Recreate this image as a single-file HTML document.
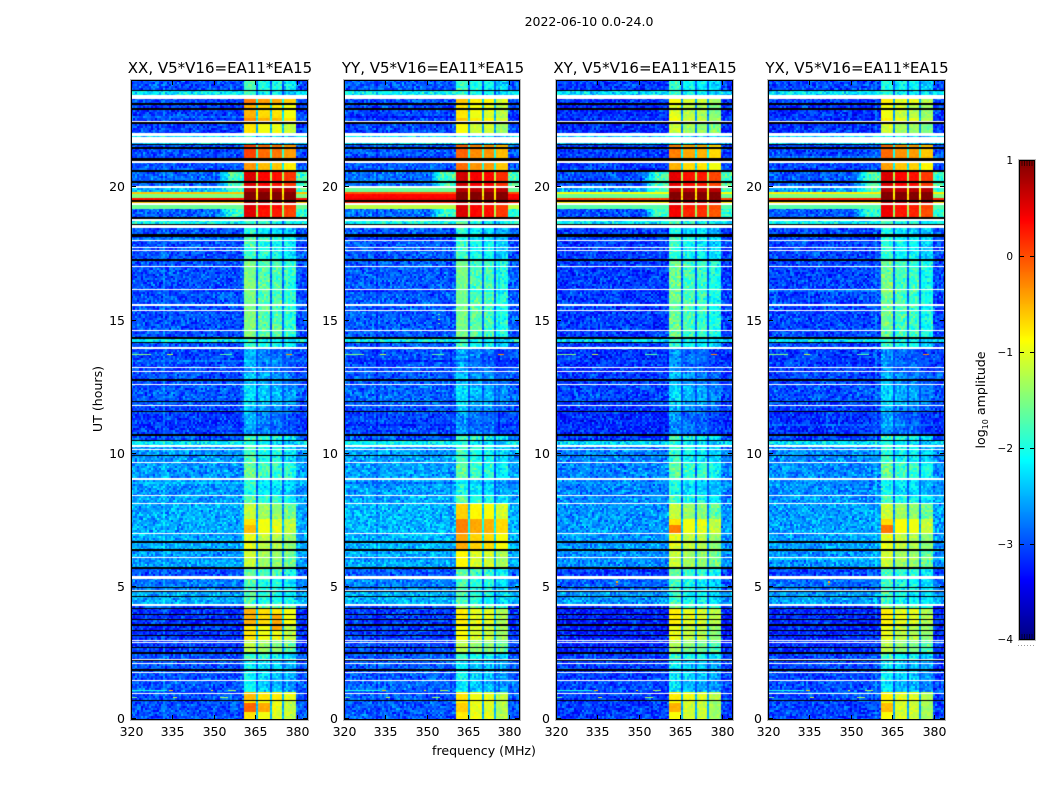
<!DOCTYPE html>
<html lang="en">
<head>
<meta charset="utf-8">
<title>2022-06-10 0.0-24.0</title>
<style>
html,body{margin:0;padding:0;background:#fff;width:1050px;height:800px;overflow:hidden}
#stage{position:relative;width:1050px;height:800px;background:#fff}
canvas{position:absolute;display:block}
svg{position:absolute;left:0;top:0}
text{font-family:"DejaVu Sans","Liberation Sans",sans-serif;fill:#000}
</style>
</head>
<body>
<div id="stage">
<canvas id="hm0" width="177" height="639" style="left:131px;top:80px"></canvas>
<canvas id="hm1" width="176" height="639" style="left:344px;top:80px"></canvas>
<canvas id="hm2" width="177" height="639" style="left:556px;top:80px"></canvas>
<canvas id="hm3" width="177" height="639" style="left:768px;top:80px"></canvas>
<canvas id="cb" width="16" height="480" style="left:1019px;top:160px"></canvas>
<svg id="ov" width="1050" height="800" viewBox="0 0 1050 800">
<text x="589" y="26" font-size="12.5" text-anchor="middle">2022-06-10 0.0-24.0</text>
<text x="220" y="73" font-size="15" text-anchor="middle">XX, V5*V16=EA11*EA15</text>
<text x="433" y="73" font-size="15" text-anchor="middle">YY, V5*V16=EA11*EA15</text>
<text x="645" y="73" font-size="15" text-anchor="middle">XY, V5*V16=EA11*EA15</text>
<text x="857" y="73" font-size="15" text-anchor="middle">YX, V5*V16=EA11*EA15</text>
<text x="484" y="755" font-size="12.6" text-anchor="middle">frequency (MHz)</text>
<text transform="translate(102,399) rotate(-90)" font-size="12.6" text-anchor="middle">UT (hours)</text>
<text transform="translate(985,400) rotate(-90)" font-size="12.6" text-anchor="middle">log<tspan font-size="8" dy="3">10</tspan><tspan dy="-3"> amplitude</tspan></text>
</svg>
</div>
<script>
// Frequency and time axes
const xTicks = [320, 335, 350, 365, 380];
const yTicks = [0, 5, 10, 15, 20];
const cbTicks = [1, 0, -1, -2, -3, -4];
const freqMin = 320;
const freqMax = 384;
const hourMax = 24;
const valMin = -4;
const valMax = 1;
const channelCount = 88;
const panelLefts = [131, 344, 556, 768];
const panelWidths = [177, 176, 177, 177];

// Interference block edges in MHz
const blockStart = [360.4, 365.8, 370.9, 375.6];
const blockEnd = [365.1, 370.2, 374.9, 379.9];
const blockOffset = [0.2, 0, -0.05, -0.25];

// Time bands: upper edge in hours, lower edge is the next entry
const bandTop = [24,23.62,23.43,23.1,22.58,22.45,21.9,21.6,21.07,20.6,20,19.8,19.7,19.55,19.45,19.3,19.15,18.85,18.6,18.2,17.2,14.33,14.12,13.95,13,12.5,11.8,11.5,10.62,10.45,10.28,9.65,9,8.4,8.1,7.5,7,6.3,5.72,5.27,4.86,4.24,4.15,3.5,2.95,2.5,2.2,1.41,1,0.7];

// Background level (log10 amplitude) away from the blocks, per band
const bgLevel = [-3,-2.2,-3.05,-3.1,-3.1,-3.1,-2.3,-3,-3,-2.9,-2.5,-0.6,-1.5,0.3,-0.6,-1.6,-2.9,-2.1,-3,-3,-3,-2.2,-3,-3.05,-3,-2.95,-3.05,-3.1,-3,-2.2,-2.65,-2.65,-2.65,-2.6,-2.55,-2.55,-2.55,-2.6,-3,-2.8,-2.55,-3.05,-3.15,-3.15,-3.1,-3,-3,-2.95,-3,-3];
const bgPanelOffset = [0, 0.05, -0.1, -0.05];

// Broadband stripe near 19.5 UT, bands 10 to 15, per polarisation
const stripeFirstBand = 10;
const stripeXX = [-2.5, -0.6, -1.5, 0.3, -0.6, -1.6];
const stripeYY = [-1.6, 0, 0.35, 0.45, 0.2, -1.2];
const stripeXY = [-2.6, -0.9, -1.6, 0.05, -0.8, -1.7];
const stripeYX = [-2.6, -0.8, -1.5, 0.2, -0.7, -1.7];

// Level inside the blocks, per band and polarisation
const blockXX = [-2,-2.1,-0.4,-0.7,-0.5,-0.95,-2.2,-0.15,-0.55,0.35,0.75,1,1,1,0.75,0.35,0.3,-1.95,-2.2,-2,-1.7,-2.1,-2,-2.75,-2.55,-2.4,-2.6,-2.75,-1.9,-2.2,-2,-1.8,-2.2,-1.9,-1.35,-0.95,-1.2,-1.35,-1.8,-1.95,-1.95,-1.6,-0.7,-0.95,-1.4,-2,-2.3,-2.4,-0.75,-0.95];
const blockYY = [-2.05,-2.1,-0.8,-0.95,-0.8,-1.1,-2.2,-0.3,-0.35,0.4,0.7,1,1,1,0.75,0.35,0.35,-1.95,-2.2,-2.05,-1.75,-2.1,-2.05,-2.8,-2.6,-2.45,-2.65,-2.8,-1.95,-2.2,-2.05,-1.9,-2.25,-1.95,-0.85,-0.45,-0.65,-1.05,-1.85,-2,-2,-1.65,-1,-1.1,-1.4,-2.05,-2.35,-2.4,-0.95,-1];
const blockXY = [-2.1,-2.1,-1.1,-1.25,-1.1,-1.35,-2.2,-0.45,-0.7,0.3,0.7,1,1,0.95,0.6,0.25,0.2,-1.95,-2.25,-2.1,-1.8,-2.1,-2.1,-2.85,-2.65,-2.5,-2.7,-2.85,-2,-2.2,-2.1,-1.85,-2.25,-2,-1.4,-0.95,-1.2,-1.35,-1.9,-2.05,-2.05,-1.7,-1,-1.2,-1.5,-2.05,-2.35,-2.45,-1,-1.1];
const blockYX = [-2.1,-2.1,-1,-1.15,-1,-1.3,-2.2,-0.35,-0.6,0.35,0.7,1,1,1,0.65,0.3,0.25,-1.95,-2.25,-2.1,-1.8,-2.1,-2.1,-2.85,-2.65,-2.5,-2.7,-2.85,-2,-2.2,-2.1,-1.85,-2.25,-2,-1.35,-0.9,-1.2,-1.35,-1.9,-2.05,-2.05,-1.7,-1,-1.2,-1.45,-2.05,-2.35,-2.45,-1,-1.1];

// Shoulder level beside the blocks, per band; 0 means none
const shoulderLevel = [0,0,0,0,0,0,0,0,0,-1.8,-1.8,-1.2,-1.6,-0.6,-1.2,-1.8,-1.9,0,0,0,0,0,0,0,0,0,0,0,0,0,0,0,0,0,0,0,0,0,0,0,0,0,0,0,0,0,0,0,0,0];

// Localised bright patches: top hour, bottom hour, block, panel, level
const patchTop = [0.6, 0.6, 0.6, 0.6, 7.3, 7.3, 7.3, 3.9, 0.6];
const patchBottom = [0.25, 0.25, 0.25, 0.25, 6.95, 6.95, 6.95, 3.35, 0.25];
const patchBlock = [0, 1, 0, 0, 0, 0, 0, 2, 0];
const patchPanel = [0, 0, 2, 3, 0, 2, 3, 0, 1];
const patchLevel = [-0.1, -0.45, -0.5, -0.55, -0.55, -0.25, -0.2, -0.45, -0.65];

// Narrow single-row interference
const spikeHour = [13.68,13.68,13.68,13.68,1.08,1.08,1.08,1.08,0.82,0.82,0.82];
const spikeFrom = [320,333,352,376,320,334,349,355,320,335,352];
const spikeTo = [327,335,356,378,333,335,350,358,322,337,355];
const spikeLevel = [-1.5,-1.2,-1.7,-0.3,-2,-0.6,-0.9,-1.3,-1.6,-1.1,-1.3];

// Isolated bright cells: panel, hour, frequency, level
const spotPanel = [2,2,2,3,3,3,1,1,1];
const spotHour = [5.15,5.05,4.95,5.15,5.05,4.95,15.2,15,14.85];
const spotFreq = [342,342,342,342,342,342,354.5,354.5,354.5];
const spotLevel = [-0.5,0,-0.6,-0.5,0,-0.6,-1.6,-1.2,-1.6];

// Flagged rows with no data, drawn white: top hour, bottom hour
const missingTop = [23.43,22.46,22.01,21.86,20.96,20.02,19.38,18.78,18.56,17.99,17.73,17.62,17.02,16.15,15.59,15.37,14.62,13.98,13.23,13.08,12.59,11.8,10.28,10.15,9.66,9.05,8.42,8.12,7,6.1,5.38,4.86,4.32,2.98,2.91,2.27,2.1,1.76,1.48,0.99];
const missingBottom = [23.3,22.42,21.9,21.63,20.9,19.96,19.32,18.72,18.46,17.94,17.68,17.56,16.96,16.1,15.53,15.31,14.56,13.9,13.17,13.02,12.53,11.75,10.23,10.11,9.61,8.99,8.37,8.07,6.94,6.04,5.27,4.8,4.24,2.93,2.85,2.21,2.05,1.71,1.41,0.94];

// Rows below the colour range, drawn black: top hour, bottom hour
const lowTop = [23.62,23.13,22.94,22.42,21.59,21.48,21.07,20.62,20.2,19.49,18.84,18.59,18.2,17.28,14.33,14.17,12.76,11.95,11.58,10.71,10.47,9.92,6.68,6.38,5.72,4.97,4.82,4.63,4.18,3.96,3.75,3.56,3.36,3.17,2.7,2.51,2.21,1.86,0.73];
const lowBottom = [23.58,23.06,22.89,22.35,21.54,21.42,20.96,20.56,20.15,19.42,18.78,18.56,18.12,17.2,14.28,14.11,12.7,11.91,11.54,10.62,10.43,9.89,6.62,6.32,5.65,4.92,4.78,4.58,4.13,3.9,3.7,3.51,3.32,3.13,2.65,2.46,2.17,1.8,0.68];

// Hand-written grain table for the receiver noise, which cannot be read cell by cell
const grainA = [2,-3,1,4,-2,0,-4,3,-1,2,-3,4,0,-2,1,-4,3,2,-1,-3,0,4,-2,1,3,-4,-1,2,0,-3,4,1,-2,3,-1,-4,2,0,3,-2,1,-3,4,-1,0,2,-4,3,1,-2,-3,4,0,2,-1,3,-4,1,-2,0,4];
const grainB = [-1,3,0,-4,2,1,-2,4,-3,0,2,-1,3,-4,1,2,-3,0,4,-2,-1,3,1,-4,2,0,-3,4,-1,-2,3,0,1,-4,2,-3,4,-1,0,3,-2,1,-4,2,0,-3,3,-1,4,-2,1,0,-4,3,2,-1,-3,4,0,-2,1,3,-2,-4,2,0,-1];

const stripes = [stripeXX, stripeYY, stripeXY, stripeYX];
const blocks = [blockXX, blockYY, blockXY, blockYX];
const panelNames = ['xx', 'yy', 'xy', 'yx'];

function clamp01(v) { return Math.max(0, Math.min(1, v)); }
function jet(v) {
  const t = clamp01((v - valMin) / (valMax - valMin));
  const r = clamp01(1.5 - Math.abs(4 * t - 3));
  const g = clamp01(1.5 - Math.abs(4 * t - 2));
  const b = clamp01(1.5 - Math.abs(4 * t - 1));
  return 'rgb(' + Math.round(r * 255) + ',' + Math.round(g * 255) + ',' + Math.round(b * 255) + ')';
}
function hourToPx(h) { return 80 + (1 - h / hourMax) * 639; }
function freqToPx(f, p) { return panelLefts[p] + (f - freqMin) * panelWidths[p] / (freqMax - freqMin); }
function bandOf(h) {
  for (let i = bandTop.length - 1; i >= 0; i--) {
    if (h <= bandTop[i] && (i === bandTop.length - 1 || h > bandTop[i + 1])) return i;
  }
  return 0;
}
function inSpans(h, tops, bottoms) {
  for (let i = 0; i < tops.length; i++) {
    if (h <= tops[i] && h >= bottoms[i]) return true;
  }
  return false;
}
function cellValue(p, band, h, f, row, col) {
  const gr = Math.floor(row / 2);
  const grain = (grainA[(col * 7 + gr * 13 + col * gr * 3 + p * 5) % grainA.length] + grainB[(col * 11 + gr * 3 + col * gr * 5 + p * 9) % grainB.length]) / 8;
  let bg = bgLevel[band] + bgPanelOffset[p];
  const si = band - stripeFirstBand;
  if (si >= 0 && si < stripes[p].length) bg = stripes[p][si];
  const sh = shoulderLevel[band];
  if (sh !== 0) {
    if (f >= blockEnd[3]) bg = Math.max(bg, sh);
    else if (f > 351) bg = Math.max(bg, bg + (sh - bg) * clamp01((f - 351) / 5));
  }
  const level = blocks[p][band];
  for (let b = 0; b < blockStart.length; b++) {
    if (f >= blockStart[b] && f <= blockEnd[b]) {
      let v = level + (level > 0.5 ? 0 : blockOffset[b]);
      for (let k = 0; k < patchTop.length; k++) {
        if (patchBlock[k] === b && patchPanel[k] === p && h <= patchTop[k] && h >= patchBottom[k]) v = patchLevel[k];
      }
      const amp = v > -1 ? 0.06 : (v > -1.6 ? 0.22 : 0.42);
      return v + grain * amp;
    }
  }
  if (f >= blockStart[0] && f <= blockEnd[3]) {
    const share = 0.05 + 0.5 * clamp01((level + 2) / 2.5);
    return -3 + (level + 3) * share + grain * 0.2;
  }
  const amp2 = bg > -1.8 ? 0.05 : 0.5;
  return bg + grain * amp2;
}

function drawPanel(p) {
  const cv = document.getElementById('hm' + p);
  const ctx = cv.getContext('2d');
  const rows = cv.height;
  const cw = cv.width / channelCount;
  ctx.fillStyle = '#fff';
  ctx.fillRect(0, 0, cv.width, rows);
  for (let r = 0; r < rows; r++) {
    const h = hourMax * (1 - (r + 0.5) / rows);
    if (inSpans(h, missingTop, missingBottom)) continue;
    if (inSpans(h, lowTop, lowBottom)) {
      ctx.fillStyle = '#000';
      ctx.fillRect(0, r, cv.width, 1);
      continue;
    }
    const band = bandOf(h);
    for (let c = 0; c < channelCount; c++) {
      const f = freqMin + (c + 0.5) * (freqMax - freqMin) / channelCount;
      let v = cellValue(p, band, h, f, r, c);
      for (let s = 0; s < spikeHour.length; s++) {
        if (Math.abs(h - spikeHour[s]) < 0.022 && f >= spikeFrom[s] && f <= spikeTo[s]) v = spikeLevel[s];
      }
      for (let s = 0; s < spotHour.length; s++) {
        if (spotPanel[s] === p && Math.abs(h - spotHour[s]) < 0.025 && Math.abs(f - spotFreq[s]) < 0.37) v = spotLevel[s];
      }
      ctx.fillStyle = jet(v);
      const x0 = Math.round(c * cw);
      const x1 = Math.round((c + 1) * cw);
      ctx.fillRect(x0, r, x1 - x0, 1);
    }
  }
}
for (let p = 0; p < panelLefts.length; p++) drawPanel(p);

// Colour bar ramp
const cbCanvas = document.getElementById('cb');
const cbCtx = cbCanvas.getContext('2d');
for (let r = 0; r < cbCanvas.height; r++) {
  cbCtx.fillStyle = jet(valMax - (r + 0.5) / cbCanvas.height * (valMax - valMin));
  cbCtx.fillRect(0, r, cbCanvas.width, 1);
}

const NS = 'http://www.w3.org/2000/svg';
const ov = document.getElementById('ov');
function mk(tag, attrs) {
  const n = document.createElementNS(NS, tag);
  for (const k in attrs) n.setAttribute(k, attrs[k]);
  ov.appendChild(n);
  return n;
}

// Axes frames, ticks and tick labels
for (let p = 0; p < panelLefts.length; p++) {
  const L = panelLefts[p];
  const W = panelWidths[p];
  const halo = mk('rect', {x: L - 0.5, y: 79.5, width: W + 1, height: 641, fill: 'none', stroke: '#bbb', 'stroke-width': 1});
  
  
  const frame = mk('rect', {x: L + 0.5, y: 80.5, width: W - 1, height: 639, fill: 'none', stroke: '#000', 'stroke-width': 1});
  
  
  xTicks.forEach(function (v) {
    const x = Math.round(freqToPx(v, p)) + 0.5;
    const tb = mk('line', {x1: x, x2: x, y1: 719, y2: 715, stroke: '#000', 'stroke-width': 1});
    
    
    const tt = mk('line', {x1: x, x2: x, y1: 81, y2: 85, stroke: '#000', 'stroke-width': 1});
    
    
    const lb = mk('text', {x: x, y: 736, 'font-size': 12.5, 'text-anchor': 'middle'});
    
    
    lb.textContent = String(v);
  });
  yTicks.forEach(function (v) {
    const y = Math.round(hourToPx(v)) + (v === 0 ? -0.5 : 0.5);
    const tl = mk('line', {x1: L + 1, x2: L + 5, y1: y, y2: y, stroke: '#000', 'stroke-width': 1});
    
    
    const tr = mk('line', {x1: L + W - 1, x2: L + W - 5, y1: y, y2: y, stroke: '#000', 'stroke-width': 1});
    
    
    const lb = mk('text', {x: L - 6, y: y + 4.5, 'font-size': 12.5, 'text-anchor': 'end'});
    
    
    lb.textContent = String(v);
  });
}

// Colour bar frame, ticks and labels
const cbHalo = mk('rect', {x: 1018.5, y: 159.5, width: 17, height: 481, fill: 'none', stroke: '#bbb', 'stroke-width': 1});


const cbFrame = mk('rect', {x: 1019.5, y: 160.5, width: 15, height: 479, fill: 'none', stroke: '#000', 'stroke-width': 1});


cbTicks.forEach(function (v) {
  const y = Math.round(160 + (valMax - v) / (valMax - valMin) * 480) + (v === valMin ? -0.5 : 0.5);
  const a = mk('line', {x1: 1020, x2: 1024, y1: y, y2: y, stroke: '#000', 'stroke-width': 1});
  
  
  const b = mk('line', {x1: 1030, x2: 1034, y1: y, y2: y, stroke: '#000', 'stroke-width': 1});
  
  
  const lb = mk('text', {x: 1013, y: y + 3.5, 'font-size': 10.5, 'text-anchor': 'end'});
  
  
  lb.textContent = v < 0 ? '\u2212' + Math.abs(v) : String(v);
});
for (let x = 1022; x <= 1032; x += 2.5) {
  const up = mk('line', {x1: x, x2: x, y1: 161, y2: 166, stroke: '#000', 'stroke-opacity': 0.6, 'stroke-width': 1});
  
  
  const dn = mk('line', {x1: x, x2: x, y1: 634, y2: 639, stroke: '#000', 'stroke-opacity': 0.6, 'stroke-width': 1});
  
  
}
for (let x = 1018; x <= 1034; x += 3) {
  const d = mk('rect', {x: x, y: 645, width: 1, height: 1, fill: '#999'});
  
  
}
</script>
</body>
</html>
